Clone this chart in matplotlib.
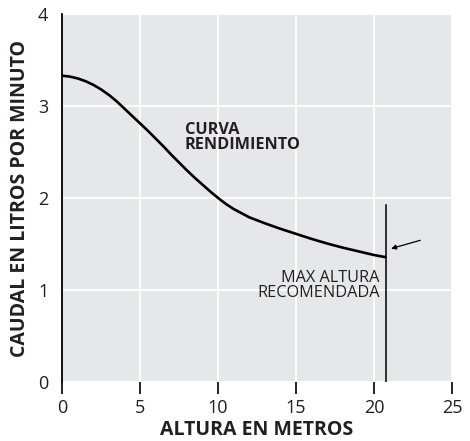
import matplotlib.pyplot as plt

# curva de rendimiento
altura = [0, 0.5, 1, 1.5, 2, 2.5, 3, 3.5, 4, 4.5, 5, 5.5, 6, 6.5, 7, 7.5, 8, 8.5, 9, 9.5,
          10, 10.5, 11, 11.5, 12, 13, 14, 15, 16, 17, 18, 19, 20, 20.8]
caudal = [3.33, 3.32, 3.30, 3.27, 3.23, 3.18, 3.12, 3.05, 2.97, 2.89, 2.81, 2.73, 2.645,
          2.56, 2.47, 2.385, 2.30, 2.22, 2.145, 2.07, 2.0, 1.935, 1.88, 1.835, 1.79,
          1.725, 1.665, 1.61, 1.555, 1.505, 1.46, 1.42, 1.38, 1.355]

max_altura = 20.8
max_linea_top = 1.92

xticks = [0, 5, 10, 15, 20, 25]
yticks = [0, 1, 2, 3, 4]

txt = '#231f20'
plt.rcParams['font.family'] = ['Open Sans', 'DejaVu Sans']

fig = plt.figure(figsize=(4.7, 4.41), dpi=100)
ax = fig.add_axes([0.1325, 0.134, 0.829, 0.834])
ax.set_facecolor('#e6e7e8')

ax.set_xlim(0, 25)
ax.set_ylim(0, 4)
ax.set_xticks(xticks)
ax.set_yticks(yticks)
ax.grid(True, color='white', linewidth=1.3)
ax.set_axisbelow(True)

for s in ['top', 'right', 'bottom']:
    ax.spines[s].set_visible(False)
ax.spines['left'].set_linewidth(1.3)
ax.spines['left'].set_color('black')

ax.tick_params(axis='x', length=8.5, width=1.2, color='black', pad=4,
               labelsize=13, labelcolor=txt)
ax.tick_params(axis='y', length=0, pad=10, labelsize=13, labelcolor=txt)

ax.plot(altura, caudal, color='black', linewidth=1.9, solid_capstyle='butt',
        solid_joinstyle='round')
ax.plot([max_altura, max_altura], [0, max_linea_top], color='black', linewidth=1.1)

ax.annotate('', xy=(21.1, 1.45), xytext=(22.97, 1.54),
            arrowprops=dict(arrowstyle='-|>', color='black', lw=0.9,
                            mutation_scale=7, shrinkA=0, shrinkB=0))

ax.text(7.87, 2.83, 'CURVA\nRENDIMIENTO', fontsize=11.7, fontweight='bold',
        color=txt, ha='left', va='top', linespacing=0.95)
ax.text(20.37, 1.22, 'MAX ALTURA\nRECOMENDADA', fontsize=11.7,
        color=txt, ha='right', va='top', linespacing=0.95,
        multialignment='right')

ax.set_xlabel('ALTURA EN METROS', fontsize=14, fontweight='bold', color=txt, labelpad=2)
ax.set_ylabel('CAUDAL EN LITROS POR MINUTO', fontsize=14, fontweight='bold',
              color=txt, labelpad=6)

fig.savefig('out.png', dpi=100)
